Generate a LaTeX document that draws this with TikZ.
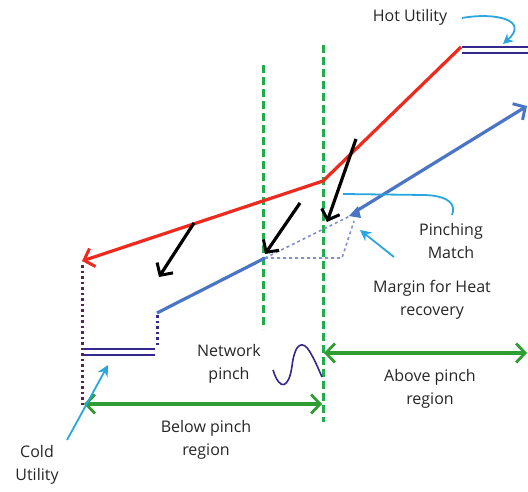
\documentclass[tikz,border=0pt]{standalone}
\usepackage{fontspec}
\setmainfont{Open Sans}
\usetikzlibrary{arrows.meta}

\definecolor{hotred}{HTML}{EE2A1E}
\definecolor{coldblue}{HTML}{4A74C4}
\definecolor{pinchgreen}{HTML}{1FAE4B}
\definecolor{regiongreen}{HTML}{2E9E32}
\definecolor{callcyan}{HTML}{29A6DF}
\definecolor{utilnavy}{HTML}{33288C}
\definecolor{dotpurple}{HTML}{5B1F5E}
\definecolor{marginblue}{HTML}{8090C8}

\tikzset{
  barb/.style={-{Straight Barb[length=9pt,width=19pt,line width=3pt]}},
  hotline/.style={hotred,line width=3.2pt},
  coldline/.style={coldblue,line width=3.2pt},
  pinchline/.style={pinchgreen,line width=3pt,dash pattern=on 8pt off 4pt},
  region/.style={regiongreen,line width=3.2pt,
    {Straight Barb[length=9pt,width=19pt,line width=2.8pt]}-{Straight Barb[length=9pt,width=19pt,line width=2.8pt]}},
  heatflow/.style={black,line width=3.2pt,barb},
  callout/.style={callcyan,line width=1.8pt},
  utility/.style={utilnavy,line width=2pt},
  dots/.style={line width=3pt,dash pattern=on 2.5pt off 3pt},
  label/.style={text=black!85,align=center,font=\fontsize{16}{23}\selectfont,inner sep=0pt}
}

\begin{document}
\begin{tikzpicture}[x=1pt,y=-1pt]
  \useasboundingbox (0,0) rectangle (528,491);

  % composite curves
  \coordinate (hotend) at (82,261);
  \coordinate (hotkink) at (323,181);
  \coordinate (hottop) at (461,47);
  \coordinate (coldstart) at (157,313);
  \coordinate (coldpinch) at (265,258);
  \coordinate (match) at (358,210);
  \coordinate (coldtop) at (527,106);

  % pinch lines
  \coordinate (netpinchtop) at (263,65);
  \coordinate (netpinchbot) at (263,329);
  \coordinate (pinchtop) at (323,45);
  \coordinate (pinchbot) at (323,422);
  \draw[pinchline] (netpinchtop) -- (netpinchbot);
  \draw[pinchline] (pinchtop) -- (pinchbot);

  \draw[hotline,barb] (hottop) -- (hotkink) -- (hotend);
  \draw[coldline] (coldstart) -- (coldpinch);
  \draw[coldline,barb] (match) -- (coldtop);

  % heat recovery margin
  \coordinate (margincorner) at (342,258);
  \draw[marginblue,line width=1.6pt,dashed] (coldpinch) -- (margincorner) -- (354,221);
  \draw[marginblue,line width=1.6pt,dashed] (coldpinch) -- (350,216);
  \fill[coldblue] (358,206) -- (361,218) -- (349,216) -- cycle;

  % utilities
  \draw[utility] (462,47) -- (528,47);
  \draw[utility] (462,53) -- (528,53);
  \draw[utility] (82,349) -- (155,349);
  \draw[utility] (84,355) -- (155,355);
  \draw[dotpurple,dots] (82,265) -- (82,407);
  \draw[utilnavy,dots] (157,315) -- (157,347);

  % heat flows
  \draw[heatflow] (194,223) -- (159,277);
  \draw[heatflow] (300,203) -- (265,254);
  \draw[heatflow] (356,139) -- (327,222);

  % regions
  \coordinate (belowleft) at (84,404);
  \coordinate (belowright) at (322,404);
  \coordinate (aboveleft) at (324,353);
  \coordinate (aboveright) at (527,353);
  \draw[region] (belowleft) -- (belowright);
  \draw[region] (aboveleft) -- (aboveright);

  % network pinch wave
  \draw[utilnavy,line width=1.6pt] (273,370) .. controls (280,392) and (289,388) .. (292,366)
    .. controls (295,342) and (303,340) .. (310,352) .. controls (315,361) .. (322,377);

  % labels
  \node[label] (hotlabel) at (410,17) {Hot Utility};
  \node[label] (coldlabel) at (37,465) {Cold\\Utility};
  \node[label] (netlabel) at (229,364) {Network\\pinch};
  \node[label] (matchlabel) at (451,241) {Pinching\\Match};
  \node[label] (marginlabel) at (432,300) {Margin for Heat\\recovery};
  \node[label] (abovelabel) at (430,389) {Above pinch\\region};
  \node[label] (belowlabel) at (206,440) {Below pinch\\region};

  % callouts
  \draw[callout,-{Stealth[length=10pt,width=10pt]}] (462,18) .. controls (495,12) and (530,20) .. (503,44);
  \draw[callout,-{Stealth[length=11pt,width=11pt]}] (67,440) -- (108,365);
  \draw[callout,-{Stealth[length=11pt,width=11pt]}] (394,257) -- (360,230);
  \draw[callout] (343,194) -- (425,195) .. controls (450,196) and (456,205) .. (452,215);
\end{tikzpicture}
\end{document}
